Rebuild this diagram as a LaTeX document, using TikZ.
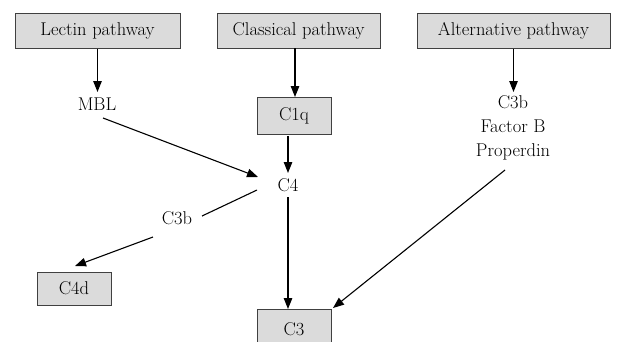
\documentclass[tikz,border=0pt]{standalone}
\usetikzlibrary{arrows.meta}
\begin{document}
\begin{tikzpicture}[x=1pt,y=-1pt,
  box/.style={draw=black!75,line width=1pt,fill=black!14,inner sep=0pt,anchor=center},
  lbl/.style={inner sep=0pt,anchor=center},
  arr/.style={-{Triangle[length=11pt,width=8.5pt]},line width=1.1pt},
  ln/.style={line width=1.1pt},
  font=\fontsize{18.5}{25}\selectfont]
\clip (0,0) rectangle (617,341);
\useasboundingbox (0,0) rectangle (617,341);
\node[box,minimum width=165pt,minimum height=35pt] (lectin) at (97.5,30.5) {Lectin pathway};
\node[box,minimum width=163pt,minimum height=35pt] (classical) at (298.5,30.5) {Classical pathway};
\node[box,minimum width=193pt,minimum height=35pt] (alt) at (513.5,30.5) {Alternative pathway};
\node[lbl] (mbl) at (97,104) {MBL};
\node[box,minimum width=74pt,minimum height=37pt] (c1q) at (294,115.5) {C1q};
\node[lbl,align=center,font=\fontsize{18.5}{24}\selectfont] (altgrp) at (513,128) {C3b\\Factor B\\Properdin};
\node[lbl] (c4) at (288,185) {C4};
\node[lbl] (c3b) at (177,218) {C3b};
\node[box,minimum width=74pt,minimum height=33pt] (c4d) at (74,288.5) {C4d};
\node[box,minimum width=74pt,minimum height=40pt] (c3) at (294,329) {C3};
% connector end points
\coordinate (mblN) at (97.5,92);
\coordinate (altgrpN) at (513.5,92);
\coordinate (clsS) at (295,48);
\coordinate (c1qN) at (295,97);
\coordinate (mblSE) at (103,118);
\coordinate (c4W) at (258,177);
\coordinate (c1qS) at (288,136);
\coordinate (c4N) at (288,173);
\coordinate (c4SW) at (257,190);
\coordinate (c3bNE) at (202,216);
\coordinate (c3bSW) at (153,237);
\coordinate (c4dN) at (75,266);
\coordinate (c4S) at (288,197);
\coordinate (c3N) at (288,309);
\coordinate (altgrpS) at (505,170);
\coordinate (c3NE) at (333,308);
\draw[arr] (lectin.south) -- (mblN);
\draw[arr] (clsS) -- (c1qN);
\draw[arr] (alt.south) -- (altgrpN);
\draw[arr] (mblSE) -- (c4W);
\draw[arr] (c1qS) -- (c4N);
\draw[ln] (c4SW) -- (c3bNE);
\draw[arr] (c3bSW) -- (c4dN);
\draw[arr] (c4S) -- (c3N);
\draw[arr] (altgrpS) -- (c3NE);
\end{tikzpicture}
\end{document}
